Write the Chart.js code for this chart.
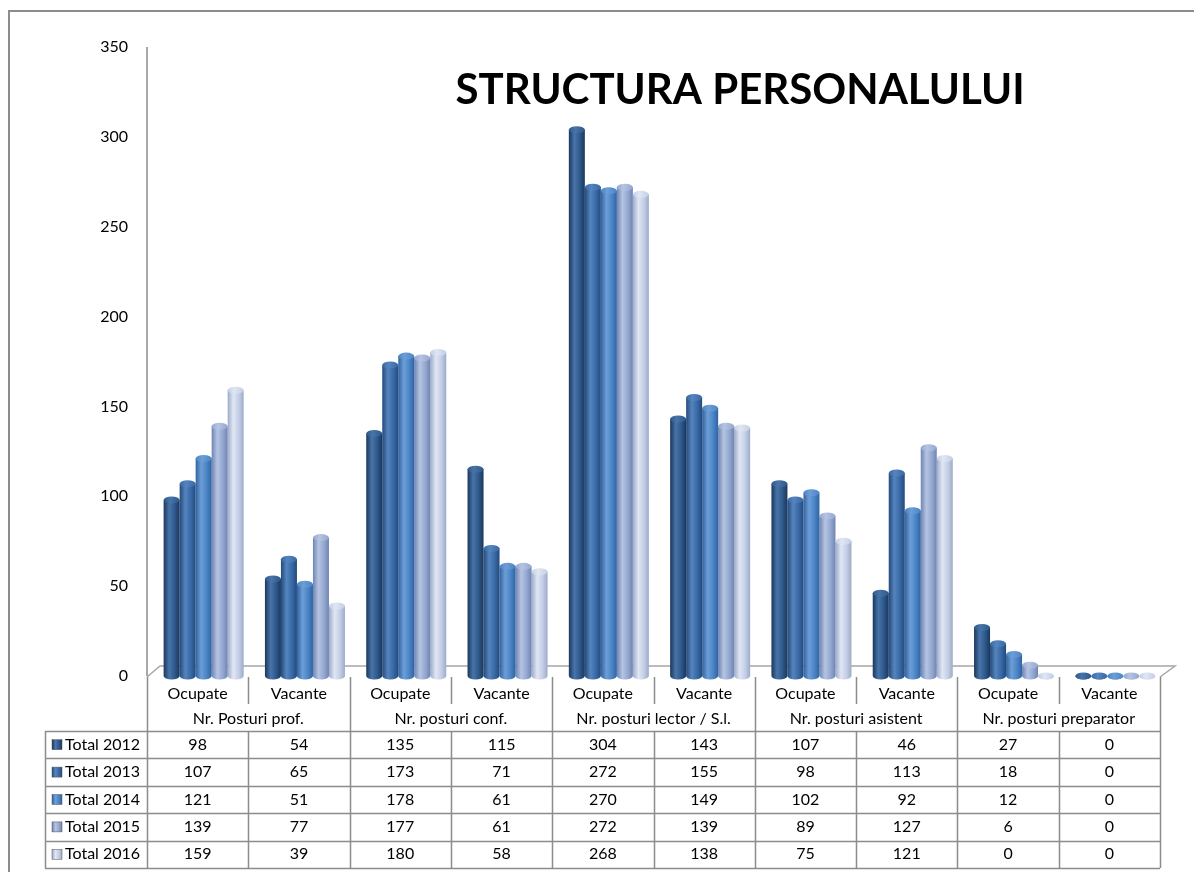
<!DOCTYPE html>
<html>
<head>
<meta charset="utf-8">
<script src="https://cdn.jsdelivr.net/npm/chart.js@4/dist/chart.umd.min.js"></script>
<style>
  html, body { margin: 0; padding: 0; background: #fff; overflow: hidden; }
  .frame { position: absolute; left: 8px; top: 10px; width: 1300px; height: 1000px; border: 2px solid #8c8c8c; }
  .wrap { position: absolute; left: 0; top: 0; width: 1194px; height: 872px; }
</style>
</head>
<body>
<div class="frame"></div>
<div class="wrap"><canvas id="chart" width="1194" height="872"></canvas></div>
<script>
const categories = ['Ocupate', 'Vacante', 'Ocupate', 'Vacante', 'Ocupate', 'Vacante', 'Ocupate', 'Vacante', 'Ocupate', 'Vacante'];
const groups = ['Nr. Posturi prof.', 'Nr. posturi conf.', 'Nr. posturi lector / S.l.', 'Nr. posturi asistent', 'Nr. posturi preparator'];
const seriesNames = ['Total 2012', 'Total 2013', 'Total 2014', 'Total 2015', 'Total 2016'];
const total2012 = [98, 54, 135, 115, 304, 143, 107, 46, 27, 0];
const total2013 = [107, 65, 173, 71, 272, 155, 98, 113, 18, 0];
const total2014 = [121, 51, 178, 61, 270, 149, 102, 92, 12, 0];
const total2015 = [139, 77, 177, 61, 272, 139, 89, 127, 6, 0];
const total2016 = [159, 39, 180, 58, 268, 138, 75, 121, 0, 0];
const yTicks = [0, 50, 100, 150, 200, 250, 300, 350];
const chartTitle = 'STRUCTURA PERSONALULUI';

// edge / body / highlight shades for the cylinder look
const shades = [
    ['#1b375a', '#2d588a', '#4874a9'],
    ['#244a7c', '#3869a6', '#5584be'],
    ['#2f63a0', '#4a84c6', '#6d9ed6'],
    ['#6f84b2', '#93a7d0', '#b5c4e2'],
    ['#9dabc9', '#c3cee5', '#e0e6f3']
];

const FONT = "Lato, 'Noto Sans', sans-serif";
const GRID = '#8c8c8c';
const SHIFT = 6; // bars sit a little right of the column centres (3D depth)

function gradientFor(ctx, x0, x1, s) {
    const g = ctx.createLinearGradient(x0, 0, x1, 0);
    g.addColorStop(0, s[0]);
    g.addColorStop(0.35, s[2]);
    g.addColorStop(0.7, s[1]);
    g.addColorStop(1, s[0]);
    return g;
}

const cylinderPlugin = {
    id: 'cylinders',
    beforeDatasetsDraw(chart) {
        const ctx = chart.ctx;
        const y = chart.scales.y;
        const base = y.getPixelForValue(0);
        // floor
        ctx.save();
        ctx.strokeStyle = '#a6a6a6';
        ctx.lineWidth = 1.5;
        ctx.beginPath();
        ctx.moveTo(147, base + 1);
        ctx.lineTo(160, base - 10);
        ctx.lineTo(1175, base - 10);
        ctx.lineTo(1160, base + 1);
        ctx.stroke();
        ctx.restore();
        chart.data.datasets.forEach((ds, di) => {
            chart.getDatasetMeta(di).data.forEach(el => {
                const g = gradientFor(ctx, el.x - el.width / 2, el.x + el.width / 2, shades[di]);
                el.options = Object.assign({}, el.options, { backgroundColor: g });
            });
        });
    },
    afterDatasetsDraw(chart) {
        const ctx = chart.ctx;
        ctx.save();
        chart.data.datasets.forEach((ds, di) => {
            const s = shades[di];
            chart.getDatasetMeta(di).data.forEach(el => {
                const rx = el.width / 2, ry = 3.5;
                // bottom rounding
                ctx.fillStyle = gradientFor(ctx, el.x - rx, el.x + rx, s);
                ctx.beginPath();
                ctx.ellipse(el.x, el.base, rx, ry, 0, 0, Math.PI);
                ctx.fill();
                // top cap
                const g = ctx.createLinearGradient(el.x - rx, 0, el.x + rx, 0);
                g.addColorStop(0, s[1]);
                g.addColorStop(0.4, s[2]);
                g.addColorStop(1, s[1]);
                ctx.fillStyle = g;
                ctx.beginPath();
                ctx.ellipse(el.x, el.y, rx, ry, 0, 0, Math.PI * 2);
                ctx.fill();
            });
        });
        ctx.restore();
    },
    afterDraw(chart) {
        const ctx = chart.ctx;
        const x = chart.scales.x;
        const y = chart.scales.y;
        const cw = x.width / categories.length;
        const colLeft = i => x.left - SHIFT + i * cw;
        const right = colLeft(categories.length);
        const top = y.getPixelForValue(0) + 1;
        const sepBottom = 704, dataTop = 731, rowH = 27.4;
        const legendLeft = 45;

        ctx.save();
        // title
        ctx.fillStyle = '#000';
        ctx.font = "bold 42px " + FONT;
        ctx.textAlign = 'center';
        ctx.textBaseline = 'middle';
        ctx.fillText(chartTitle, 740, 90);

        // y axis line
        ctx.strokeStyle = GRID;
        ctx.lineWidth = 1.5;
        ctx.beginPath();
        ctx.moveTo(147, y.top);
        ctx.lineTo(147, y.bottom);
        ctx.stroke();

        // table grid
        ctx.beginPath();
        for (let i = 0; i <= categories.length; i++) {
            const cx = Math.round(colLeft(i)) + 0.5;
            if (i % 2 === 0) {
                ctx.moveTo(cx, top); ctx.lineTo(cx, dataTop + rowH * 5);
            } else {
                ctx.moveTo(cx, top); ctx.lineTo(cx, sepBottom);
                ctx.moveTo(cx, dataTop); ctx.lineTo(cx, dataTop + rowH * 5);
            }
        }
        for (let r = 0; r <= seriesNames.length; r++) {
            const ry = Math.round(dataTop + r * rowH) + 0.5;
            ctx.moveTo(legendLeft, ry); ctx.lineTo(right, ry);
        }
        ctx.moveTo(legendLeft + 0.5, dataTop); ctx.lineTo(legendLeft + 0.5, dataTop + rowH * 5);
        ctx.stroke();

        // header texts
        ctx.fillStyle = '#000';
        ctx.font = "16px " + FONT;
        categories.forEach((c, i) => ctx.fillText(c, colLeft(i) + cw / 2, 694));
        groups.forEach((g, i) => ctx.fillText(g, colLeft(2 * i + 1), 719));

        // data rows
        const rows = chart.data.datasets;
        rows.forEach((ds, r) => {
            const cy = dataTop + r * rowH + rowH / 2;
            ds.data.forEach((v, i) => ctx.fillText(String(v), colLeft(i) + cw / 2, cy));
            ctx.fillStyle = gradientFor(ctx, 52, 62, shades[r]);
            ctx.fillRect(52, cy - 5, 10, 10);
            ctx.strokeStyle = '#555';
            ctx.lineWidth = 0.5;
            ctx.strokeRect(52, cy - 5, 10, 10);
            ctx.fillStyle = '#000';
            ctx.textAlign = 'left';
            ctx.fillText(ds.label, 65, cy);
            ctx.textAlign = 'center';
        });
        ctx.restore();
    }
};

const seriesValues = [total2012, total2013, total2014, total2015, total2016];

new Chart(document.getElementById('chart'), {
    type: 'bar',
    data: {
        labels: categories,
        datasets: seriesNames.map((name, i) => ({
            label: name,
            data: seriesValues[i],
            backgroundColor: shades[i][1],
            borderWidth: 0,
            categoryPercentage: 0.79,
            barPercentage: 1.0
        }))
    },
    options: {
        responsive: false,
        animation: false,
        layout: { padding: { top: 47, bottom: 196, left: 0, right: 28 } },
        plugins: {
            legend: { display: false },
            title: { display: false },
            tooltip: { enabled: false }
        },
        scales: {
            x: { display: false },
            y: {
                min: 0,
                max: 350,
                afterFit(scale) { scale.width = 153; },
                afterBuildTicks(scale) { scale.ticks = yTicks.map(v => ({ value: v })); },
                grid: { display: false, drawTicks: false },
                border: { display: false },
                ticks: {
                    padding: 25,
                    color: '#000',
                    font: { family: FONT, size: 16 }
                }
            }
        }
    },
    plugins: [cylinderPlugin]
});
</script>
</body>
</html>
